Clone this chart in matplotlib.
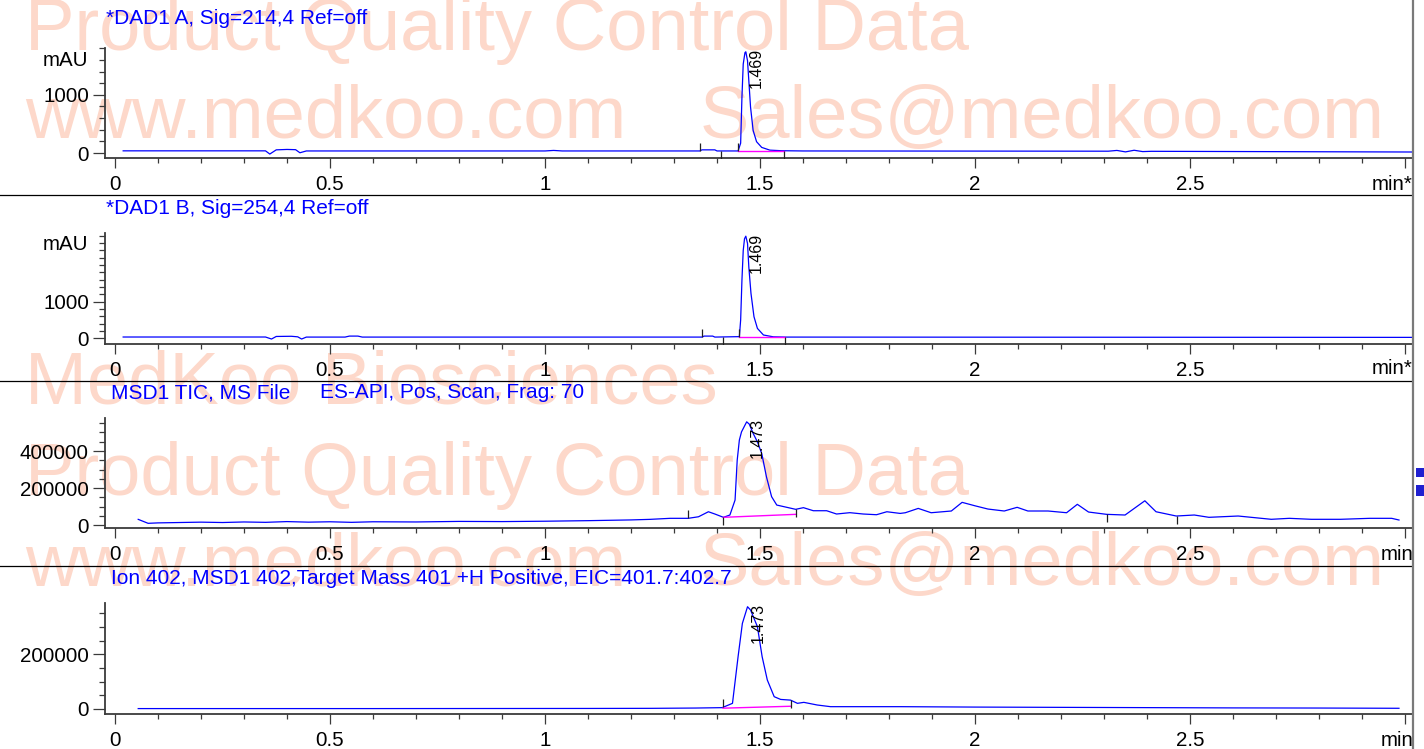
import numpy as np
import matplotlib
matplotlib.use("Agg")
import matplotlib.pyplot as plt
from matplotlib.ticker import FixedLocator, MultipleLocator, FixedFormatter
from matplotlib.path import Path
from matplotlib.lines import Line2D
from matplotlib.patches import Rectangle

plt.rcParams['font.family'] = ['Liberation Sans', 'DejaVu Sans']

# ---------------- data ----------------
titles = ["*DAD1 A, Sig=214,4 Ref=off",
          "*DAD1 B, Sig=254,4 Ref=off",
          "MSD1 TIC, MS File",
          "Ion 402, MSD1 402,Target Mass 401 +H Positive, EIC=401.7:402.7"]
title_extra = "ES-API, Pos, Scan, Frag: 70"
peak_labels = ["1.469", "1.469", "1.473", "1.473"]
peak_times = [1.467, 1.467, 1.469, 1.471]
x_tick_values = [0, 0.5, 1, 1.5, 2, 2.5, 3.0]
x_tick_labels = ["0", "0.5", "1", "1.5", "2", "2.5", ""]
x_units = ["min*", "min*", "min", "min"]
y_units = ["mAU", "mAU", "", ""]
y_major = [[0, 1000], [0, 1000], [0, 200000, 400000], [0, 200000]]

dad_a_t = [0.019, 0.35, 0.36, 0.375, 0.40, 0.42, 0.43, 0.445, 1.00, 1.02, 1.04,
           1.36, 1.365, 1.395, 1.40, 1.449, 1.455, 1.458, 1.461, 1.465, 1.467,
           1.471, 1.474, 1.478, 1.484, 1.492, 1.504, 1.523, 1.55, 1.60,
           2.31, 2.33, 2.35, 2.37, 2.39, 2.41, 3.016]
dad_a_v = [38, 38, -17, 55, 62, 58, 5, 36, 36, 45, 36,
           36, 55, 55, 36, 36, 170, 960, 1530, 1725, 1740,
           1585, 1245, 790, 390, 195, 97, 50, 40, 36,
           32, 45, 20, 48, 25, 30, 18]

dad_b_t = [0.019, 0.35, 0.364, 0.375, 0.41, 0.425, 0.434, 0.445, 0.535, 0.545,
           0.565, 0.575, 1.365, 1.37, 1.39, 1.395, 1.452, 1.455, 1.458, 1.461,
           1.464, 1.467, 1.471, 1.474, 1.479, 1.486, 1.494, 1.508, 1.531, 1.56, 3.016]
dad_b_v = [35, 35, -20, 50, 55, 40, -20, 33, 33, 60,
           60, 33, 33, 60, 60, 33, 45, 500, 1590, 2400,
           2720, 2790, 2590, 1950, 1230, 590, 270, 90, 40, 33, 25]

tic_t = [0.054, 0.077, 0.10, 0.15, 0.2, 0.25, 0.3, 0.35, 0.4, 0.45, 0.5, 0.55,
         0.6, 0.7, 0.8, 0.9, 1.0, 1.1, 1.2, 1.244, 1.291, 1.333, 1.357, 1.380,
         1.395, 1.415, 1.43, 1.442, 1.447, 1.452, 1.457, 1.469, 1.475, 1.484,
         1.494, 1.504, 1.515, 1.527, 1.539, 1.562, 1.583, 1.601, 1.624, 1.655,
         1.678, 1.709, 1.74, 1.771, 1.795, 1.826, 1.838, 1.868, 1.898, 1.945,
         1.970, 2.0, 2.03, 2.068, 2.098, 2.123, 2.17, 2.213, 2.238, 2.264,
         2.306, 2.349, 2.395, 2.421, 2.468, 2.51, 2.544, 2.612, 2.689, 2.731,
         2.782, 2.85, 2.918, 2.969, 2.986]
tic_v = [32000, 10700, 13000, 15000, 17000, 15000, 18000, 16000, 20000, 17000,
         19000, 16000, 19000, 18000, 21000, 20000, 22000, 25000, 29000, 32000,
         37600, 37600, 46000, 73000, 60800, 43000, 55400, 136000, 351000, 459000,
         503000, 557000, 545000, 495000, 449000, 387000, 261000, 154000, 109000,
         97000, 86000, 95000, 78500, 78500, 60800, 68000, 60800, 57000, 73000,
         64000, 67700, 91000, 67700, 77000, 123600, 105000, 87600, 77000, 96800,
         77000, 77000, 67700, 113000, 71500, 59000, 55400, 132000, 73000, 50000,
         55400, 43000, 50000, 32300, 37600, 32300, 32300, 37600, 37600, 28500]

eic_t = [0.054, 0.3, 0.6, 0.9, 1.1, 1.246, 1.35, 1.412, 1.436, 1.449, 1.459,
         1.471, 1.478, 1.494, 1.505, 1.517, 1.533, 1.548, 1.571, 1.587, 1.602,
         1.633, 1.664, 1.711, 1.827, 2.0, 2.2, 2.4, 2.6, 2.8, 2.986]
eic_v = [1500, 1500, 1500, 1800, 2000, 2400, 3500, 4900, 20700, 191000, 313000,
         374000, 362000, 301000, 191000, 106000, 45000, 35000, 32500, 20700, 24300,
         14600, 8500, 8500, 8500, 7000, 6000, 5000, 4000, 3500, 2600]

# integration event marks (time, direction) and baselines
marks_t = [[1.36, 1.409, 1.449, 1.556],
           [1.364, 1.413, 1.452, 1.558],
           [1.333, 1.415, 1.583, 2.306, 2.47],
           [1.414, 1.571]]
marks_dir = [[1, -1, 1, -1], [1, -1, 1, -1], [1, -1, -1, -1, -1], [1, -1]]
base_t = [[1.449, 1.556], [1.452, 1.558], [1.415, 1.583], [1.414, 1.571]]
base_v = [[36, 36], [33, 33], [43000, 59000], [3000, 10000]]

watermark_lines = ["Product Quality Control Data", "www.medkoo.com", "Sales@medkoo.com",
                   "MedKoo Biosciences", "Product Quality Control Data",
                   "www.medkoo.com", "Sales@medkoo.com"]

traces_t = [dad_a_t, dad_b_t, tic_t, eic_t]
traces_v = [dad_a_v, dad_b_v, tic_v, eic_v]

# ---------------- layout ----------------
W, H = 1424, 749
fig = plt.figure(figsize=(W / 100, H / 100), dpi=100)


def fx(px):
    return px / W


def fy(py):
    return 1 - py / H


XL, XR = 105, 1412
T0_PX, PX_PER_MIN = 115, 430.0
xlim = ((XL - T0_PX) / PX_PER_MIN, (XR - T0_PX) / PX_PER_MIN)

layout = [
    dict(top=48, bot=158, ylim=(-85, 1805), minor=200, title_y=18, title_x=106,
         unit_y=60, xunit_y=185),
    dict(top=233, bot=344, ylim=(-156, 2877), minor=200, title_y=208, title_x=106,
         unit_y=245, xunit_y=369),
    dict(top=418, bot=528, ylim=(-14500, 577700), minor=50000, title_y=393, title_x=111,
         unit_y=None, xunit_y=555),
    dict(top=603, bot=714, ylim=(-18300, 387600), minor=50000, title_y=578, title_x=111,
         unit_y=None, xunit_y=741),
]

WM_COLOR = '#FDD8CA'
wm_pos = [(25, 50), (25, 138), (700, 138), (25, 404), (25, 495), (25, 585), (700, 585)]
for txt, (px, py) in zip(watermark_lines, wm_pos):
    fig.text(fx(px), fy(py), txt, fontsize=53.4, color=WM_COLOR, ha='left',
             va='baseline', zorder=-5)

AX_COL = '#3a3a3a'
TXT_FS = 14.8
TITLE_FS = 15.0
up_marker = Path([(0, 0), (0, 1)], [Path.MOVETO, Path.LINETO])
dn_marker = Path([(0, 0), (0, -1)], [Path.MOVETO, Path.LINETO])

for i, L in enumerate(layout):
    ax = fig.add_axes([fx(XL), fy(L['bot']), fx(XR) - fx(XL),
                       (L['bot'] - L['top']) / H])
    ax.patch.set_visible(False)
    ax.set_xlim(*xlim)
    ax.set_ylim(*L['ylim'])
    for s in ['top', 'right']:
        ax.spines[s].set_visible(False)
    for s in ['left', 'bottom']:
        ax.spines[s].set_color(AX_COL)
        ax.spines[s].set_linewidth(1.3)

    t = np.array(traces_t[i], dtype=float)
    v = np.array(traces_v[i], dtype=float)
    ax.plot(t, v, color='#0000ff', lw=0.9, zorder=3, clip_on=False)

    # baseline
    ax.plot(base_t[i], base_v[i], color='#ff00ff', lw=1.0, zorder=4)
    # event marks
    for mt, md in zip(marks_t[i], marks_dir[i]):
        mv = np.interp(mt, t, v)
        ax.plot([mt], [mv], linestyle='none',
                marker=up_marker if md > 0 else dn_marker,
                markersize=11, markeredgewidth=0.9, markeredgecolor='#202020',
                zorder=5)

    # ticks
    ax.xaxis.set_major_locator(FixedLocator(x_tick_values))
    ax.xaxis.set_major_formatter(FixedFormatter(x_tick_labels))
    ax.xaxis.set_minor_locator(MultipleLocator(0.1))
    ax.yaxis.set_major_locator(FixedLocator(y_major[i]))
    ax.yaxis.set_major_formatter(FixedFormatter([str(int(y)) for y in y_major[i]]))
    ax.yaxis.set_minor_locator(MultipleLocator(L['minor']))
    ax.tick_params(axis='x', which='major', length=7.2, width=0.9, color=AX_COL,
                   pad=5, labelsize=TXT_FS)
    ax.tick_params(axis='x', which='minor', length=3.6, width=0.9, color=AX_COL)
    ax.tick_params(axis='y', which='major', length=8.6, width=0.9, color=AX_COL,
                   pad=3, labelsize=TXT_FS)
    ax.tick_params(axis='y', which='minor', length=4.3, width=0.9, color=AX_COL)

    # peak label
    ax.annotate(peak_labels[i], xy=(peak_times[i], 1.0),
                xycoords=('data', 'axes fraction'), xytext=(7.5, 0),
                textcoords='offset points', rotation=90, ha='center', va='top',
                fontsize=11.5, color='black', zorder=6)

    # titles / units
    fig.text(fx(L['title_x']), fy(L['title_y']), titles[i], color='#0000ff',
             fontsize=TITLE_FS, ha='left', va='center')
    if i == 2:
        fig.text(fx(320), fy(L['title_y']), title_extra, color='#0000ff',
                 fontsize=TITLE_FS, ha='left', va='center')
    if y_units[i]:
        fig.text(fx(88), fy(L['unit_y']), y_units[i], fontsize=TXT_FS,
                 ha='right', va='center')
    if x_units[i].endswith('*'):
        fig.text(fx(1413), fy(L['xunit_y']), x_units[i], fontsize=TXT_FS,
                 ha='right', va='center')
    else:
        fig.text(fx(1381), fy(L['xunit_y']), x_units[i], fontsize=TXT_FS,
                 ha='left', va='center')

# panel separators
for sy in [194.5, 380.5, 565.5]:
    fig.add_artist(Line2D([0, fx(1412)], [fy(sy), fy(sy)], transform=fig.transFigure,
                          color='black', lw=0.9, zorder=8))
# right border
fig.add_artist(Line2D([fx(1412.5), fx(1412.5)], [0, 1], transform=fig.transFigure,
                      color='#7a7a7a', lw=1.6, zorder=9))
# small blue marks at the right edge
for (y0, y1) in [(468, 477), (485, 496)]:
    fig.add_artist(Rectangle((fx(1416), fy(y1)), fx(1424) - fx(1416),
                             (y1 - y0) / H, transform=fig.transFigure,
                             facecolor='#2020d0', edgecolor='none', zorder=9))

fig.savefig("out.png", dpi=100)
